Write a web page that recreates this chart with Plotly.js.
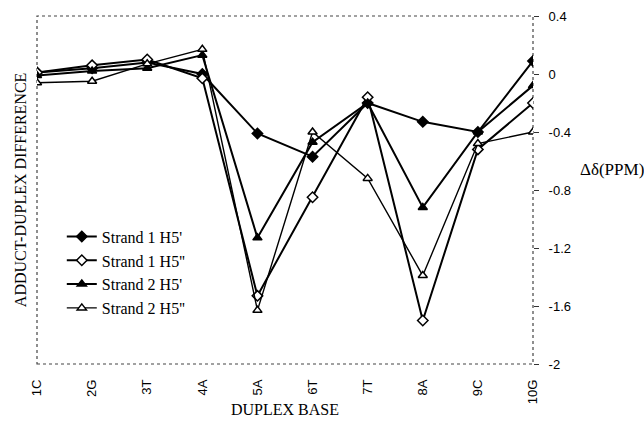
<!DOCTYPE html>
<html>
<head>
<meta charset="utf-8">
<script src="https://cdn.plot.ly/plotly-3.0.1.min.js"></script>
<style>html,body{margin:0;padding:0;background:#fff;}#chart{width:644px;height:421px;}</style>
</head>
<body>
<div id="chart"></div>
<script>
var categories = ['1C','2G','3T','4A','5A','6T','7T','8A','9C','10G'];
var strand1H5p  = [0.01, 0.04, 0.08, 0.00, -0.41, -0.57, -0.20, -0.33, -0.40, 0.09];
var strand1H5pp = [0.01, 0.06, 0.10, -0.03, -1.53, -0.85, -0.16, -1.70, -0.52, -0.20];
var strand2H5p  = [-0.01, 0.02, 0.04, 0.13, -1.13, -0.47, -0.20, -0.92, -0.40, -0.08];
var strand2H5pp = [-0.06, -0.05, 0.07, 0.17, -1.63, -0.40, -0.72, -1.39, -0.48, -0.40];
var seriesNames = ["Strand 1 H5'", "Strand 1 H5''", "Strand 2 H5'", "Strand 2 H5''"];
var yTickVals = [0.4, 0, -0.4, -0.8, -1.2, -1.6, -2];
var yTickText = ['0.4', '0', '-0.4', '-0.8', '-1.2', '-1.6', '-2'];

function tr(y, name, sym, fill, lw) {
  return {
    x: categories, y: y, name: name, type: 'scatter', mode: 'lines+markers',
    line: {color: '#000', width: lw},
    marker: {symbol: sym, size: 8, color: fill, line: {color: '#000', width: 1.5}},
    hoverinfo: 'skip'
  };
}
var data = [
  tr(strand1H5p, seriesNames[0], 'diamond', '#000', 2),
  tr(strand1H5pp, seriesNames[1], 'diamond', '#fff', 2),
  tr(strand2H5p, seriesNames[2], 'triangle-up', '#000', 2),
  tr(strand2H5pp, seriesNames[3], 'triangle-up', '#fff', 1.4)
];
var serif = 'Liberation Serif, Times New Roman, serif';
var sans = 'Liberation Sans, Arial, sans-serif';
var layout = {
  width: 644, height: 421,
  margin: {l: 37, r: 111, t: 16, b: 57},
  paper_bgcolor: '#fff', plot_bgcolor: '#fff',
  showlegend: true,
  legend: {x: 0.05, y: 0.415, xanchor: 'left', yanchor: 'top', bgcolor: 'rgba(0,0,0,0)',
           font: {family: serif, size: 16, color: '#000'}, tracegroupgap: 0},
  xaxis: {type: 'category', range: [0, 9], showgrid: false, zeroline: false, showline: false,
          tickangle: -90, ticks: '', ticklabelstandoff: 12,
          tickfont: {family: sans, size: 13, color: '#000'}},
  yaxis: {side: 'right', range: [-2, 0.4], showgrid: false, zeroline: false, showline: false,
          tickvals: yTickVals, ticktext: yTickText, ticks: 'outside', ticklen: 5, tickcolor: '#333',
          ticklabelstandoff: 7, tickfont: {family: sans, size: 13, color: '#000'}},
  shapes: [{type: 'rect', xref: 'paper', yref: 'paper', x0: 0, x1: 1, y0: 0, y1: 1,
            line: {color: '#444', width: 1.2, dash: 'dot'}, layer: 'below'}],
  annotations: [
    {text: 'ADDUCT-DUPLEX DIFFERENCE', xref: 'paper', yref: 'paper', x: -0.034, y: 0.5,
     xanchor: 'center', yanchor: 'middle', textangle: -90, showarrow: false,
     font: {family: serif, size: 16, color: '#000'}},
    {text: 'DUPLEX BASE', xref: 'paper', yref: 'paper', x: 0.5, y: -0.132,
     xanchor: 'center', yanchor: 'middle', showarrow: false,
     font: {family: serif, size: 16, color: '#000'}},
    {text: 'Δδ(PPM)', xref: 'paper', yref: 'paper', x: 1.16, y: 0.558,
     xanchor: 'center', yanchor: 'middle', showarrow: false,
     font: {family: serif, size: 17, color: '#000'}}
  ]
};
Plotly.newPlot('chart', data, layout, {staticPlot: true, displayModeBar: false});
</script>
</body>
</html>
